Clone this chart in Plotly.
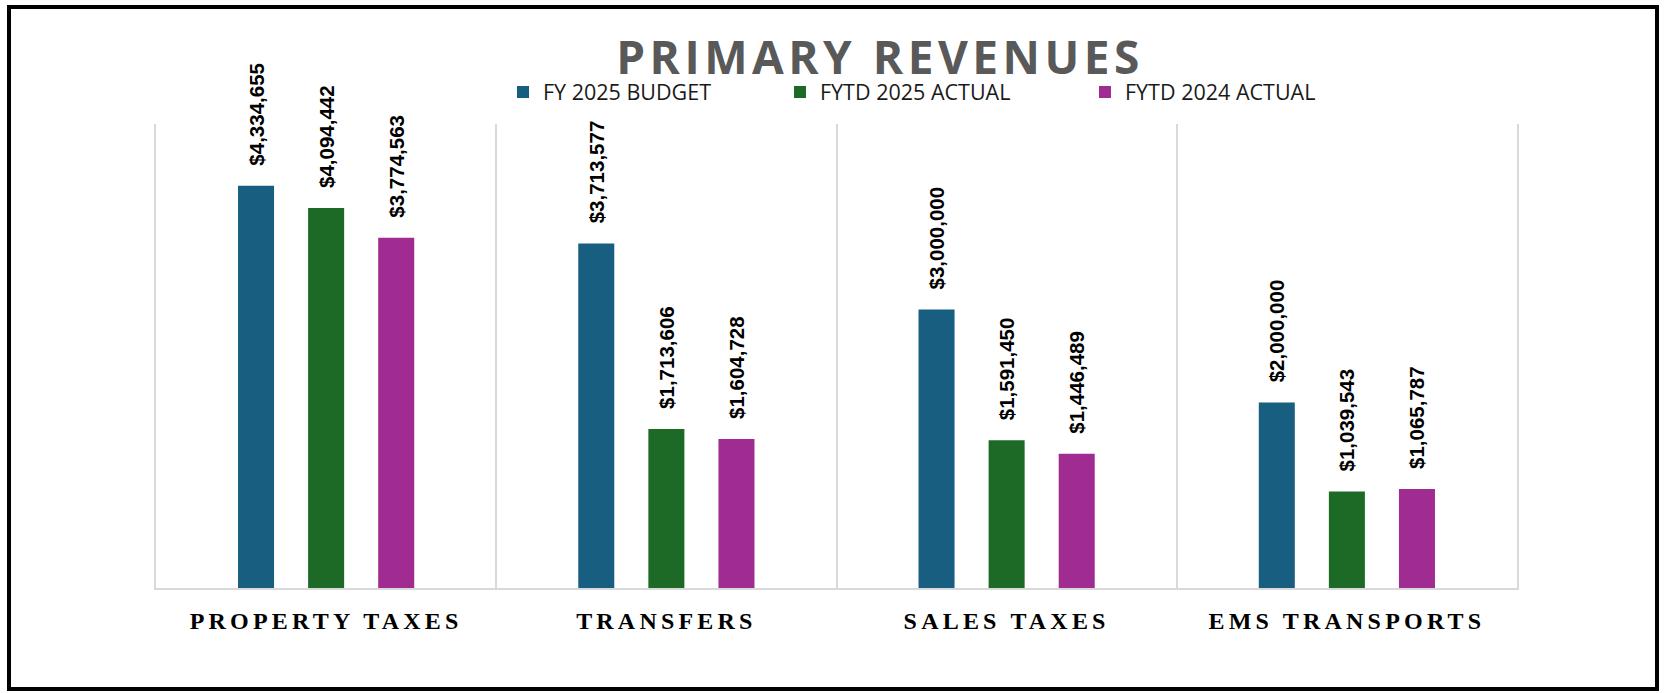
import plotly.graph_objects as go

categories = ["PROPERTY TAXES", "TRANSFERS", "SALES TAXES", "EMS TRANSPORTS"]
series_names = ["FY 2025 BUDGET", "FYTD 2025 ACTUAL", "FYTD 2024 ACTUAL"]
budget_2025 = [4334655, 3713577, 3000000, 2000000]
actual_2025 = [4094442, 1713606, 1591450, 1039543]
actual_2024 = [3774563, 1604728, 1446489, 1065787]
colors = ["#175E80", "#1C6A26", "#A02B91"]

tick_text = ['<span style="letter-spacing:4.2px">' + c + '</span>' for c in categories]

W, H = 1665, 693
L, R, T, B = 156, 148, 124, 105
pw, ph = W - L - R, H - T - B

fig = go.Figure()
legend_ids = ["legend", "legend2", "legend3"]
for name, vals, col, lg in zip(series_names, [budget_2025, actual_2025, actual_2024], colors, legend_ids):
    fig.add_trace(go.Bar(
        x=categories, y=vals, name=name, marker=dict(color=col, line=dict(width=0)),
        text=["\u00a0\u00a0\u00a0" + f"${v:,.0f}" for v in vals],
        textposition="outside", textangle=-90, constraintext="none", cliponaxis=False,
        textfont=dict(family="Liberation Sans", size=20.5, color="#000000", weight="bold"),
        legend=lg,
    ))

def px_x(x):
    return (x - L) / pw

def px_y(y):
    return (H - B - y) / ph

legend_common = dict(orientation="h", xanchor="left", yanchor="middle", bgcolor="rgba(0,0,0,0)",
                     font=dict(family="Open Sans", size=21.5, color="#1a1a1a"), borderwidth=0)

layout_legends = {}
for lg, xpx in zip(legend_ids, [519, 796, 1101]):
    layout_legends[lg] = dict(legend_common, x=px_x(xpx - 16), y=px_y(92))

fig.update_layout(
    width=W, height=H,
    margin=dict(l=L, r=R, t=T, b=B, pad=0),
    paper_bgcolor="white", plot_bgcolor="white",
    barmode="group", bargap=0.382, bargroupgap=0.486,
    title=dict(text='<span style="letter-spacing:4.5px">PRIMARY REVENUES</span>',
               x=px_x(880), xref="paper", xanchor="center",
               y=1 - 58 / H, yanchor="middle",
               font=dict(family="Open Sans", size=46, color="#595959", weight="bold")),
    xaxis=dict(type="category", tickson="boundaries", showgrid=True, gridcolor="#d9d9d9", gridwidth=2,
               showline=True, linecolor="#d9d9d9", linewidth=2, ticks="",
               tickvals=categories, ticktext=tick_text, ticklabelstandoff=10,
               tickfont=dict(family="Liberation Serif", size=24, color="#000000", weight="bold")),
    yaxis=dict(range=[0, 5000000], showgrid=False, showticklabels=False, zeroline=False,
               showline=True, mirror=True, linecolor="#d9d9d9", linewidth=2),
    showlegend=True,
    **layout_legends,
)

fig.add_shape(type="rect", xref="paper", yref="paper",
              x0=px_x(9), x1=px_x(1657), y0=px_y(689), y1=px_y(7),
              line=dict(color="black", width=4), fillcolor="rgba(0,0,0,0)", layer="above")

fig.write_html("out.html", config={"displayModeBar": False},
               post_script="document.body.style.margin='0';document.body.style.padding='0';")
